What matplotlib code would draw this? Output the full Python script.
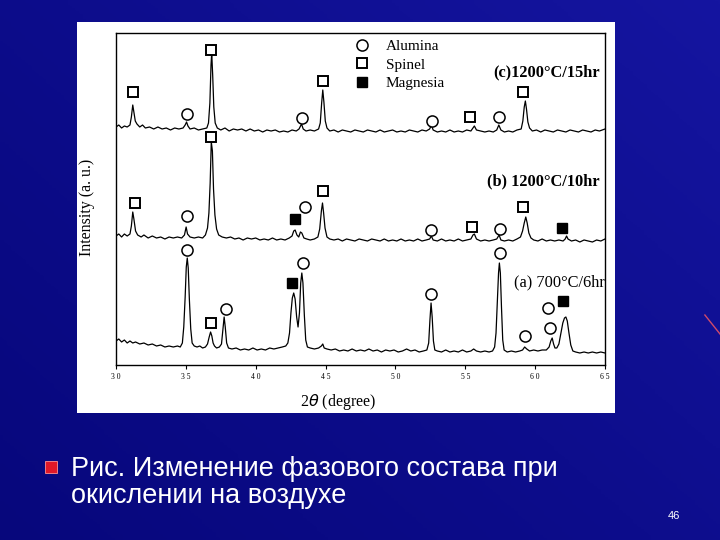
import numpy as np
import matplotlib
matplotlib.use("Agg")
import matplotlib.pyplot as plt
from matplotlib.lines import Line2D
from matplotlib.patches import Rectangle
from matplotlib.colors import LinearSegmentedColormap

# XRD scans: (2theta, intensity in a.u., stacked offsets included)
scan_c = [(30.0, 238), (30.2, 240), (30.4, 237), (30.6, 239), (30.8, 238), (31.0, 240), (31.1, 248),
          (31.2, 260), (31.28, 253), (31.38, 244), (31.5, 241), (31.7, 238), (31.9, 240), (32.1, 237),
          (32.4, 238), (32.7, 236), (33.0, 238), (33.3, 236), (33.6, 237), (33.9, 235), (34.2, 237),
          (34.5, 236), (34.8, 237), (34.95, 240), (35.05, 243), (35.15, 239), (35.3, 236), (35.6, 237),
          (35.9, 235), (36.2, 236), (36.5, 237), (36.62, 242), (36.72, 262), (36.8, 300), (36.85, 312),
          (36.92, 290), (37.0, 258), (37.1, 242), (37.25, 237), (37.5, 235), (37.8, 237), (38.1, 234),
          (38.4, 236), (38.7, 235), (39.0, 236), (39.3, 234), (39.6, 236), (39.9, 234), (40.2, 235),
          (40.5, 233), (40.8, 235), (41.1, 234), (41.4, 235), (41.7, 233), (42.0, 234), (42.3, 233),
          (42.6, 235), (42.9, 234), (43.1, 236), (43.28, 241), (43.4, 236), (43.6, 234), (43.9, 235),
          (44.2, 234), (44.5, 236), (44.62, 242), (44.72, 262), (44.8, 275), (44.88, 263), (44.98, 244),
          (45.1, 237), (45.3, 234), (45.6, 235), (45.9, 233), (46.2, 235), (46.5, 234), (46.8, 233),
          (47.1, 235), (47.4, 234), (47.7, 233), (48.0, 235), (48.3, 234), (48.6, 233), (48.9, 235),
          (49.2, 233), (49.5, 234), (49.8, 235), (50.1, 233), (50.4, 234), (50.7, 233), (51.0, 235),
          (51.3, 234), (51.6, 233), (51.9, 235), (52.2, 234), (52.45, 236), (52.57, 240), (52.7, 235),
          (53.0, 233), (53.3, 234), (53.6, 233), (53.9, 235), (54.2, 233), (54.5, 234), (54.8, 233),
          (55.1, 235), (55.4, 234), (55.55, 237), (55.65, 239), (55.8, 235), (56.1, 234), (56.4, 233),
          (56.7, 234), (57.0, 233), (57.25, 235), (57.4, 240), (57.55, 235), (57.8, 233), (58.1, 234),
          (58.4, 233), (58.7, 235), (59.0, 236), (59.12, 244), (59.22, 258), (59.3, 264), (59.38, 256),
          (59.48, 243), (59.6, 237), (59.8, 234), (60.1, 235), (60.4, 233), (60.7, 235), (61.0, 234),
          (61.3, 233), (61.6, 235), (61.9, 234), (62.2, 233), (62.5, 235), (62.8, 234), (63.1, 233),
          (63.4, 235), (63.7, 234), (64.0, 233), (64.3, 235), (64.6, 234), (65.0, 236)]

scan_b = [(30.0, 129), (30.2, 131), (30.4, 128), (30.6, 131), (30.8, 129), (31.0, 131), (31.1, 139),
          (31.2, 153), (31.28, 146), (31.4, 134), (31.55, 130), (31.8, 128), (32.0, 130), (32.3, 127),
          (32.6, 129), (32.9, 127), (33.2, 128), (33.5, 126), (33.8, 128), (34.1, 127), (34.4, 128),
          (34.7, 127), (34.9, 130), (35.02, 138), (35.12, 131), (35.3, 128), (35.6, 127), (35.9, 128),
          (36.2, 127), (36.4, 130), (36.55, 137), (36.65, 152), (36.74, 182), (36.82, 223), (36.9, 214),
          (36.98, 176), (37.08, 150), (37.2, 136), (37.35, 130), (37.6, 128), (37.9, 127), (38.2, 128),
          (38.5, 126), (38.8, 127), (39.1, 125), (39.4, 127), (39.7, 126), (40.0, 127), (40.3, 125),
          (40.6, 126), (40.9, 125), (41.2, 127), (41.5, 125), (41.8, 126), (42.1, 125), (42.4, 127),
          (42.6, 129), (42.72, 134), (42.82, 135), (42.95, 130), (43.08, 128), (43.2, 133), (43.3, 132),
          (43.45, 127), (43.65, 126), (43.9, 125), (44.2, 126), (44.45, 128), (44.58, 136), (44.7, 154),
          (44.78, 162), (44.86, 152), (44.96, 137), (45.1, 128), (45.3, 126), (45.6, 125), (45.9, 126),
          (46.2, 124), (46.5, 126), (46.8, 125), (47.1, 124), (47.4, 126), (47.7, 125), (48.0, 124),
          (48.3, 126), (48.6, 125), (48.9, 124), (49.2, 126), (49.5, 124), (49.8, 125), (50.1, 124),
          (50.4, 126), (50.7, 124), (51.0, 125), (51.3, 124), (51.6, 126), (51.9, 124), (52.2, 125),
          (52.45, 126), (52.57, 129), (52.7, 125), (53.0, 124), (53.3, 126), (53.6, 124), (53.9, 125),
          (54.2, 124), (54.5, 126), (54.8, 124), (55.1, 125), (55.4, 126), (55.55, 130), (55.65, 131),
          (55.8, 126), (56.1, 124), (56.4, 125), (56.7, 124), (57.0, 125), (57.25, 126), (57.42, 130),
          (57.55, 125), (57.8, 124), (58.1, 125), (58.4, 124), (58.7, 126), (58.95, 128), (59.1, 134),
          (59.22, 142), (59.33, 148), (59.43, 142), (59.55, 132), (59.7, 127), (59.9, 125), (60.2, 124),
          (60.5, 126), (60.8, 124), (61.1, 125), (61.4, 124), (61.7, 125), (62.0, 124), (62.15, 126),
          (62.25, 129), (62.35, 126), (62.6, 124), (62.9, 125), (63.2, 123), (63.5, 125), (63.8, 124),
          (64.1, 123), (64.4, 125), (64.7, 124), (65.0, 126)]

scan_a = [(30.0, 24), (30.2, 26), (30.4, 23), (30.6, 25), (30.8, 22), (31.0, 24), (31.2, 22), (31.4, 23),
          (31.7, 21), (32.0, 22), (32.3, 20), (32.6, 21), (32.9, 19), (33.2, 20), (33.5, 18), (33.8, 19),
          (34.1, 18), (34.4, 19), (34.6, 18), (34.75, 22), (34.85, 38), (34.95, 68), (35.03, 98),
          (35.1, 107), (35.17, 97), (35.25, 66), (35.35, 36), (35.45, 22), (35.6, 19), (35.8, 18),
          (36.0, 19), (36.2, 17), (36.4, 18), (36.55, 21), (36.67, 28), (36.77, 33), (36.86, 29),
          (36.95, 22), (37.05, 19), (37.2, 17), (37.4, 18), (37.55, 21), (37.65, 35), (37.74, 48),
          (37.82, 38), (37.92, 22), (38.05, 17), (38.3, 16), (38.6, 17), (38.9, 15), (39.2, 16), (39.5, 15),
          (39.8, 17), (40.1, 15), (40.4, 16), (40.7, 15), (41.0, 17), (41.3, 16), (41.6, 17), (41.9, 18),
          (42.15, 19), (42.3, 22), (42.42, 32), (42.52, 52), (42.62, 67), (42.72, 72), (42.82, 66),
          (42.93, 48), (43.03, 38), (43.13, 52), (43.22, 82), (43.3, 92), (43.38, 82), (43.48, 50),
          (43.58, 25), (43.7, 18), (43.9, 17), (44.2, 16), (44.5, 17), (44.7, 19), (44.8, 21), (44.9, 17),
          (45.1, 16), (45.4, 15), (45.7, 16), (46.0, 14), (46.3, 15), (46.6, 14), (46.9, 16), (47.2, 14),
          (47.5, 15), (47.8, 14), (48.1, 16), (48.4, 14), (48.7, 15), (49.0, 13), (49.3, 15), (49.6, 14),
          (49.9, 15), (50.2, 13), (50.5, 14), (50.8, 16), (51.1, 14), (51.4, 15), (51.7, 13), (52.0, 14),
          (52.25, 15), (52.38, 22), (52.47, 45), (52.55, 62), (52.63, 48), (52.72, 24), (52.82, 15),
          (53.0, 14), (53.3, 13), (53.6, 15), (53.9, 13), (54.2, 14), (54.5, 13), (54.8, 15), (55.1, 13),
          (55.4, 14), (55.6, 16), (55.8, 14), (56.1, 13), (56.4, 14), (56.7, 13), (56.95, 14), (57.1, 18),
          (57.2, 32), (57.3, 65), (57.38, 92), (57.44, 102), (57.51, 92), (57.59, 58), (57.68, 25),
          (57.78, 15), (58.0, 13), (58.3, 14), (58.6, 13), (58.9, 14), (59.1, 15), (59.25, 18), (59.4, 16),
          (59.6, 14), (59.9, 15), (60.2, 14), (60.5, 15), (60.8, 15), (61.0, 18), (61.12, 24), (61.22, 27),
          (61.32, 21), (61.42, 17), (61.55, 17), (61.7, 21), (61.85, 32), (61.98, 42), (62.1, 47),
          (62.2, 48), (62.3, 44), (62.42, 32), (62.55, 20), (62.7, 14), (62.9, 13), (63.2, 12), (63.5, 13),
          (63.8, 12), (64.1, 13), (64.4, 12), (64.7, 13), (65.0, 12)]

# phase markers (2theta, height)
alumina = [(35.1, 251), (43.3, 247), (52.6, 244), (57.4, 248),
           (35.1, 149), (43.5, 158), (52.55, 135), (57.5, 136),
           (35.1, 115), (37.9, 56), (43.35, 102), (52.55, 71), (57.5, 112),
           (59.28, 29), (60.95, 57), (61.07, 37)]
spinel = [(31.25, 273), (36.8, 315), (44.8, 284), (55.35, 248), (59.1, 273),
          (31.35, 162), (36.8, 228), (44.8, 174), (55.45, 138), (59.1, 158),
          (36.8, 42)]
magnesia = [(42.83, 146), (61.9, 137), (42.63, 82), (61.97, 64)]

scan_labels = ["(c)1200°C/15hr", "(b) 1200°C/10hr", "(a) 700°C/6hr"]
label_pos = [(64.65, 293), (64.65, 184), (65.0, 83)]
xticks = [30, 35, 40, 45, 50, 55, 60, 65]
xtick_labels = ["3 0", "3 5", "4 0", "4 5", "5 0", "5 5", "6 0", "6 5"]

serif = ["Liberation Serif", "DejaVu Serif"]

fig = plt.figure(figsize=(7.2, 5.4), dpi=100)

# slide background
bg = fig.add_axes([0, 0, 1, 1], zorder=-3)
yy, xx = np.mgrid[0:1:200j, 0:1:200j]
grad = 0.55 * xx + 0.45 * (1 - yy)
cmap = LinearSegmentedColormap.from_list("slide", ["#07077c", "#0d0d8c", "#1515a0"])
bg.imshow(grad, cmap=cmap, aspect="auto", extent=[0, 1, 0, 1], origin="upper")
bg.plot([0.979, 1.0], [1 - 315 / 540, 1 - 334 / 540], color="#d04a6a", lw=1.0)
bg.set_xlim(0, 1)
bg.set_ylim(0, 1)
bg.axis("off")

# white picture panel
panel = fig.add_axes([77 / 720, 1 - 413 / 540, 538 / 720, 391 / 540], zorder=-2)
panel.set_facecolor("white")
panel.set_xticks([])
panel.set_yticks([])
for s in panel.spines.values():
    s.set_visible(False)

ax = fig.add_axes([116 / 720, 1 - 365 / 540, 489 / 720, 332 / 540])
ax.set_facecolor("white")
for scan in (scan_c, scan_b, scan_a):
    arr = np.array(scan)
    ax.plot(arr[:, 0], arr[:, 1], color="black", lw=0.9)

al = np.array(alumina)
sp = np.array(spinel)
mg = np.array(magnesia)
ax.plot(al[:, 0], al[:, 1], ls="none", marker="o", ms=8, mfc="white", mec="black", mew=1.1)
ax.plot(sp[:, 0], sp[:, 1], ls="none", marker="s", ms=7.5, mfc="white", mec="black", mew=1.4)
ax.plot(mg[:, 0], mg[:, 1], ls="none", marker="s", ms=7.5, mfc="black", mec="black")

for txt, (x, y), w in zip(scan_labels, label_pos, ["bold", "bold", "normal"]):
    ax.text(x, y, txt, ha="right", va="center", fontsize=11.8, fontweight=w, family=serif)

handles = [Line2D([], [], ls="none", marker="o", ms=8, mfc="white", mec="black", mew=1.1),
           Line2D([], [], ls="none", marker="s", ms=7.5, mfc="white", mec="black", mew=1.4),
           Line2D([], [], ls="none", marker="s", ms=7.5, mfc="black", mec="black")]
ax.legend(handles, ["Alumina", "Spinel", "Magnesia"], loc="upper left",
          bbox_to_anchor=(0.456, 1.003), frameon=False, borderpad=0, labelspacing=0.3,
          handletextpad=0.55, prop={"family": serif, "size": 11})

ax.set_xlim(30, 65)
ax.set_ylim(0, 332)
ax.set_xticks(xticks)
ax.set_xticklabels(xtick_labels, fontsize=5.5, family=serif)
ax.set_yticks([])
ax.tick_params(axis="x", direction="out", length=3, width=0.8, pad=3)
for s in ax.spines.values():
    s.set_linewidth(1.0)

ax.set_xlabel(r"2$\theta$ (degree)", fontsize=11.5, family=serif)
ax.xaxis.set_label_coords(0.454, -0.082)
ax.set_ylabel("Intensity (a. u.)", fontsize=11.5, family=serif)
ax.yaxis.set_label_coords(-0.042, 0.476)

# caption
fig.add_artist(Rectangle((45 / 720, 1 - 473 / 540), 12 / 720, 12 / 540,
                         transform=fig.transFigure, facecolor="#e01828", edgecolor="#ff9090", lw=0.6))
cap_font = ["Liberation Sans", "DejaVu Sans"]
fig.text(71 / 720, 1 - 476 / 540, "Рис. Изменение фазового состава при", color="white",
         fontsize=19.5, family=cap_font, va="baseline")
fig.text(71 / 720, 1 - 503 / 540, "окислении на воздухе", color="white",
         fontsize=19.5, family=cap_font, va="baseline")
fig.text(668 / 720, 1 - 519 / 540, "46", color="white", fontsize=8, family=cap_font)

fig.savefig("out.png", dpi=100, facecolor=fig.get_facecolor())
